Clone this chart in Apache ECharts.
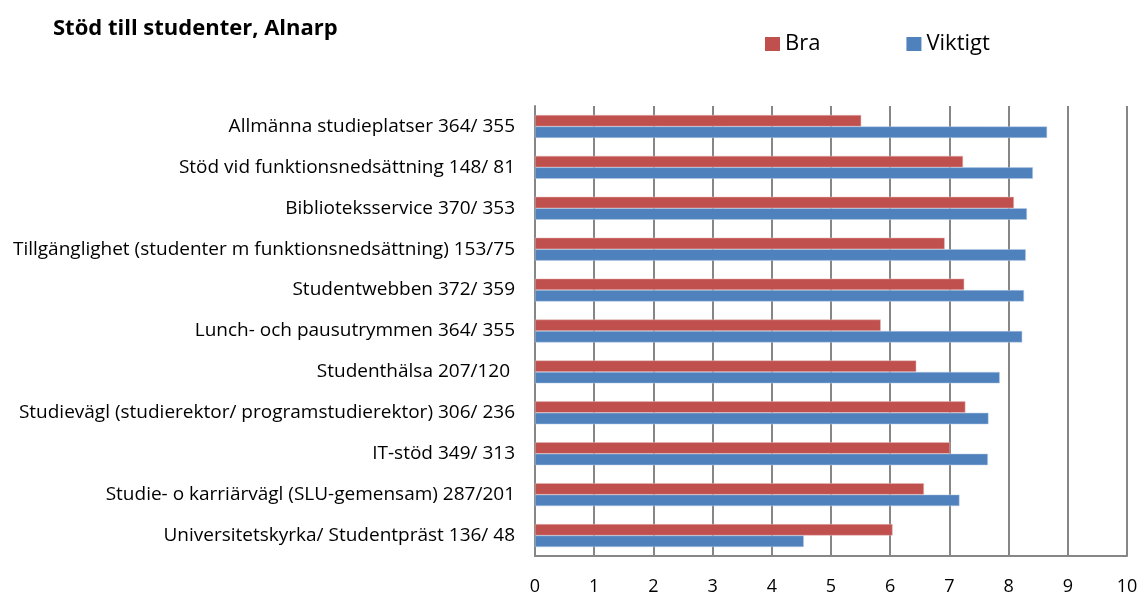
<!DOCTYPE html>
<html>
<head>
<meta charset="utf-8">
<script src="https://cdn.jsdelivr.net/npm/echarts@6/dist/echarts.min.js"></script>
<style>
  html, body { margin: 0; padding: 0; background: #fff; }
  #main { width: 1140px; height: 592px; }
</style>
</head>
<body>
<div id="main"></div>
<script>
var myChart = echarts.init(document.getElementById('main'));

// categories, top to bottom
var categories = [
    'Allmänna studieplatser 364/ 355',
    'Stöd vid funktionsnedsättning 148/ 81',
    'Biblioteksservice 370/ 353',
    'Tillgänglighet (studenter m funktionsnedsättning) 153/75',
    'Studentwebben 372/ 359',
    'Lunch- och pausutrymmen 364/ 355',
    'Studenthälsa 207/120 ',
    'Studievägl (studierektor/ programstudierektor) 306/ 236',
    'IT-stöd 349/ 313',
    'Studie- o karriärvägl (SLU-gemensam) 287/201',
    'Universitetskyrka/ Studentpräst 136/ 48'
];
var bra = [5.51, 7.23, 8.09, 6.92, 7.25, 5.84, 6.44, 7.27, 7.01, 6.57, 6.04];
var viktigt = [8.65, 8.41, 8.31, 8.29, 8.26, 8.23, 7.85, 7.66, 7.65, 7.17, 4.54];

var font = 'Open Sans';

var option = {
    backgroundColor: '#fff',
    animation: false,
    title: {
        text: 'Stöd till studenter, Alnarp',
        left: 48,
        top: 13,
        textStyle: { fontFamily: font, fontSize: 22, fontWeight: 'bold', color: '#000' }
    },
    legend: {
        data: ['Bra', 'Viktigt'],
        left: 760,
        top: 28,
        itemWidth: 15,
        itemHeight: 14,
        itemGap: 86,
        icon: 'rect',
        itemStyle: { borderWidth: 0 },
        textStyle: { fontFamily: font, fontSize: 22, color: '#000', padding: [0, 0, 0, 0] }
    },
    grid: {
        left: 535,
        right: 13,
        top: 106,
        bottom: 36,
        outerBoundsMode: 'none',
        containLabel: false
    },
    xAxis: {
        type: 'value',
        min: 0,
        max: 10,
        interval: 1,
        axisLine: { show: true, lineStyle: { color: '#868686', width: 2 } },
        axisTick: { show: false },
        axisLabel: { fontFamily: font, fontSize: 18, color: '#000', margin: 22 },
        splitLine: { show: true, lineStyle: { color: '#868686', width: 2 } }
    },
    yAxis: {
        type: 'category',
        data: categories,
        inverse: true,
        axisLine: { show: true, lineStyle: { color: '#868686', width: 2 } },
        axisTick: { show: false },
        axisLabel: { fontFamily: font, fontSize: 19, color: '#000', margin: 20 }
    },
    series: [
        {
            name: 'Bra',
            type: 'bar',
            data: bra,
            barGap: '0%',
            barCategoryGap: '44%',
            itemStyle: { color: '#C0504D', borderColor: '#E6B9B8', borderWidth: 0.5 }
        },
        {
            name: 'Viktigt',
            type: 'bar',
            data: viktigt,
            barGap: '0%',
            barCategoryGap: '44%',
            itemStyle: { color: '#4F81BD', borderColor: '#B9CDE5', borderWidth: 0.5 }
        }
    ]
};
myChart.setOption(option);
</script>
</body>
</html>
